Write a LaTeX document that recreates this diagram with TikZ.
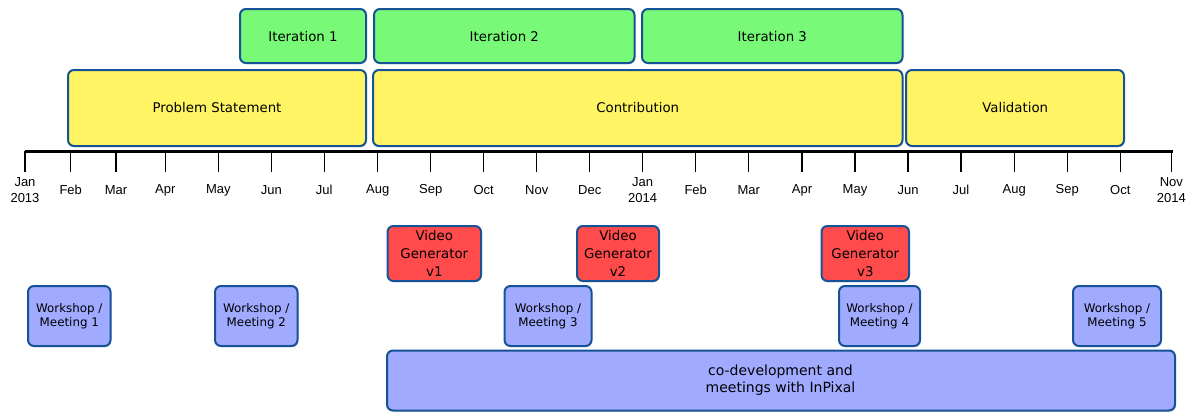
\documentclass[tikz,border=0pt]{standalone}
\usepackage{fontspec}
\setmainfont{Liberation Sans}
\newfontfamily\boxfont{DejaVu Sans}
\usetikzlibrary{shadows}

\definecolor{boxline}{RGB}{22,82,150}
\definecolor{itergreen}{RGB}{120,250,120}
\definecolor{phaseyellow}{RGB}{255,245,100}
\definecolor{genred}{RGB}{255,75,75}
\definecolor{meetblue}{RGB}{160,170,255}

\begin{document}
\begin{tikzpicture}[x=0.75pt, y=-0.75pt,
        box/.style={draw=boxline, line width=1.5pt, rounded corners=4.5pt,
            drop shadow={shadow xshift=0.6pt, shadow yshift=-0.9pt, opacity=0.3}},
        phasetext/.style={font=\boxfont\fontsize{10}{13}\selectfont, align=center},
        gentext/.style={font=\boxfont\fontsize{10}{13.5}\selectfont, align=center},
        meettext/.style={font=\boxfont\fontsize{8.9}{10.3}\selectfont, align=center},
        codevtext/.style={font=\boxfont\fontsize{10.5}{12.75}\selectfont, align=center},
        monthtick/.style={line width=0.9pt},
        monthlabel/.style={font=\fontsize{9.75}{12}\selectfont, align=center}]
        \useasboundingbox (0, 0) rectangle (1192, 412);

        % Draw the iterations
        \draw[box, fill=itergreen] (240, 9) rectangle (366, 63);
        \node[phasetext] (iter1) at (303, 36.5) {Iteration 1};
        \draw[box, fill=itergreen] (374, 9) rectangle (634.5, 63);
        \node[phasetext] (iter2) at (504.3, 36.5) {Iteration 2};
        \draw[box, fill=itergreen] (642, 9) rectangle (902.5, 63);
        \node[phasetext] (iter3) at (772.3, 36.5) {Iteration 3};

        % Draw the phases
        \draw[box, fill=phaseyellow] (68, 70) rectangle (366, 146);
        \node[phasetext] (problem) at (217, 108) {Problem Statement};
        \draw[box, fill=phaseyellow] (373, 70) rectangle (902.5, 146);
        \node[phasetext] (contrib) at (637.7, 108) {Contribution};
        \draw[box, fill=phaseyellow] (906, 70) rectangle (1124, 146);
        \node[phasetext] (valid) at (1015.2, 108) {Validation};

        % Draw the time axis
        \draw[line width=2.25pt] (25, 151) -- (1173, 151);
        \foreach \x/\m [count=\i] in {25/{Jan\\2013}, 70.7/Feb, 116/Mar, 165.3/Apr,
                218.3/May, 271.3/Jun, 324.3/Jul, 377.7/Aug, 430.7/Sep, 483.7/Oct,
                536.7/Nov, 589.7/Dec, 642.7/{Jan\\2014}, 695.7/Feb, 748.7/Mar,
                802/Apr, 855/May, 908/Jun, 961/Jul, 1014.3/Aug, 1067.3/Sep,
                1120.3/Oct, 1171.3/{Nov\\2014}} {
            \draw[monthtick] (\x, 151) -- (\x, 172);
            \node[monthlabel] (month\i) at (\x, 190) {\m};
        }

        % Draw the video generator releases
        \draw[box, fill=genred] (387.5, 226) rectangle (481, 281);
        \node[gentext] (gen1) at (434.3, 253.5) {Video\\Generator\\v1};
        \draw[box, fill=genred] (577, 226) rectangle (659, 281);
        \node[gentext] (gen2) at (618, 253.5) {Video\\Generator\\v2};
        \draw[box, fill=genred] (821.5, 226) rectangle (909, 281);
        \node[gentext] (gen3) at (865.3, 253.5) {Video\\Generator\\v3};

        % Draw the workshops / meetings
        \draw[box, fill=meetblue] (28, 286) rectangle (110.5, 346);
        \node[meettext] (meet1) at (69.3, 316) {Workshop /\\Meeting 1};
        \draw[box, fill=meetblue] (215, 286) rectangle (297.5, 346);
        \node[meettext] (meet2) at (256.3, 316) {Workshop /\\Meeting 2};
        \draw[box, fill=meetblue] (504.5, 286) rectangle (591.5, 346);
        \node[meettext] (meet3) at (548, 316) {Workshop /\\Meeting 3};
        \draw[box, fill=meetblue] (839, 286) rectangle (920, 346);
        \node[meettext] (meet4) at (879.5, 316) {Workshop /\\Meeting 4};
        \draw[box, fill=meetblue] (1073, 286) rectangle (1161, 346);
        \node[meettext] (meet5) at (1117, 316) {Workshop /\\Meeting 5};

        % Draw the co-development period
        \draw[box, fill=meetblue] (387, 350.5) rectangle (1175, 410.5);
        \node[codevtext] (codev) at (780.5, 380.5) {co-development and\\meetings with InPixal};
    \end{tikzpicture}
\end{document}
